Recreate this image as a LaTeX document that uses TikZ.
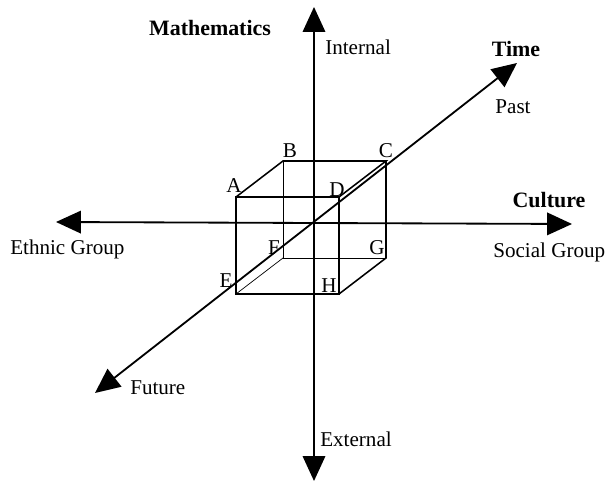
\documentclass[tikz,border=0pt]{standalone}
\usepackage{fontspec}
\setmainfont{Liberation Serif}
\usetikzlibrary{arrows.meta}

\begin{document}
\begin{tikzpicture}[x=0.025cm,y=-0.025cm,
	axis/.style={line width=1.3pt,{Triangle[length=0.62cm,width=0.56cm]}-{Triangle[length=0.62cm,width=0.56cm]}},
	edge/.style={line width=1.1pt},
	hidden/.style={line width=0.5pt},
	lbl/.style={font=\fontsize{15}{18}\selectfont,inner sep=0pt,anchor=base},
	ttl/.style={lbl,font=\fontsize{15.6}{18}\selectfont\bfseries}]
				\useasboundingbox (0,0) rectangle (614,484);
				% axis ends
				\coordinate (top) at (314,7);
				\coordinate (bot) at (314,481);
				\coordinate (lft) at (56,222);
				\coordinate (rgt) at (572,224);
				\coordinate (fut) at (95,393);
				\coordinate (pst) at (517,63);
				% cube corners
				\foreach \n/\x/\y in {A/236/197,B/283/161,C/386/161,D/339/197,E/236/294,F/283/258,G/386/258,H/339/294}{
					\coordinate (c\n) at (\x,\y);
				}
				% hidden edges
				\draw[hidden] (cB) -- (cF) -- (cG);
				\draw[hidden] (cF) -- (cE);
				% visible edges
				\draw[edge] (cA) -- (cD) -- (cH) -- (cE) -- cycle;
				\draw[edge] (cA) -- (cB) -- (cC) -- (cD);
				\draw[edge] (cC) -- (cG) -- (cH);
				% axes
				\draw[axis] (bot) -- (top);
				\draw[axis] (lft) -- (rgt);
				\draw[axis] (fut) -- (pst);
				% corner letters
				\foreach \n/\x/\y in {A/234/193,B/290/158,C/386/158,D/337/197,E/226/288,F/274/255,G/377/255,H/329/293}{
					\node[lbl,anchor=base] (l\n) at (\x,\y) {\n};
				}
				% axis titles
				\node[ttl] (math) at (210,36) {Mathematics};
				\node[ttl] (time) at (516,57) {Time};
				\node[ttl] (cult) at (549,208) {Culture};
				% axis ends text
				\node[lbl,anchor=base west] (intl) at (325,55) {Internal};
				\node[lbl,anchor=base west] (extl) at (320,447) {External};
				\node[lbl] (past) at (513,114) {Past};
				\node[lbl,anchor=base west] (futr) at (130,395) {Future};
				\node[lbl,anchor=base west] (ethn) at (10,255) {Ethnic Group};
				\node[lbl,anchor=base west] (socl) at (493,258) {Social Group};
			\end{tikzpicture}
\end{document}
